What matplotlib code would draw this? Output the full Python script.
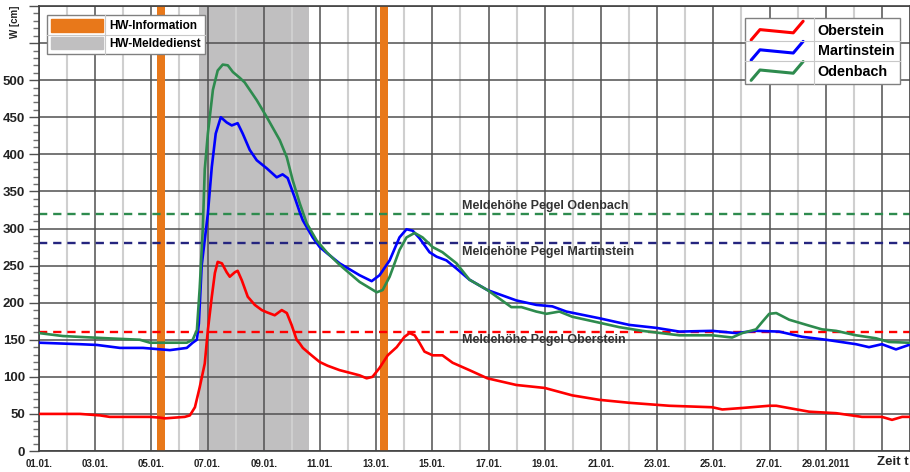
import matplotlib
matplotlib.use("Agg")
import matplotlib.pyplot as plt
from matplotlib.patches import Patch
from matplotlib.lines import Line2D
from matplotlib.legend_handler import HandlerBase

plt.rcParams['font.family'] = ['Liberation Sans', 'DejaVu Sans']
plt.rcParams['font.weight'] = 'bold'

# ---- data (time in days since 01.01.2011 00:00) ----
t_oberstein = [0.00, 1.46, 2.17, 2.52, 3.95, 4.30, 4.48, 4.83, 5.19, 5.37, 5.55, 5.72, 5.90, 6.01,
               6.15, 6.26, 6.36, 6.51, 6.68, 6.79, 6.97, 7.07, 7.22, 7.43, 7.68, 7.93, 8.11, 8.39,
               8.64, 8.82, 8.99, 9.17, 9.28, 9.39, 9.70, 9.99, 10.27, 10.70, 11.41, 11.66, 11.87,
               12.12, 12.41, 12.73, 13.01, 13.19, 13.37, 13.54, 13.72, 14.01, 14.36, 14.72, 15.32,
               15.96, 16.99, 18.00, 18.98, 19.94, 21.01, 22.43, 23.96, 24.32, 25.03, 25.99, 26.24,
               27.41, 28.37, 29.29, 30.00, 30.36, 30.72, 30.96]
w_oberstein = [50, 50, 48, 46, 46, 45, 44, 45, 46, 48, 59, 86, 118, 163,
               208, 240, 255, 253, 241, 235, 241, 243, 230, 208, 197, 190, 187, 183,
               190, 186, 170, 150, 145, 139, 129, 120, 115, 109, 102, 98, 100,
               112, 129, 140, 154, 159, 156, 146, 134, 129, 129, 119, 109,
               98, 89, 85, 75, 69, 65, 61, 59, 56, 58, 61, 61,
               53, 51, 46, 46, 42, 46, 46]

t_martinstein = [0.00, 1.46, 2.06, 2.88, 3.70, 4.66, 5.26, 5.47, 5.62, 5.69, 5.79, 5.90, 6.01, 6.15,
                 6.29, 6.47, 6.68, 6.86, 7.07, 7.25, 7.50, 7.75, 8.11, 8.46, 8.67, 8.85, 9.10,
                 9.28, 9.39, 9.74, 9.99, 10.24, 10.70, 11.41, 11.84, 12.12, 12.48, 12.83, 13.08,
                 13.30, 13.54, 13.90, 14.15, 14.50, 14.86, 15.32, 15.96, 16.99, 17.70, 18.27,
                 18.77, 19.94, 21.01, 21.97, 22.79, 23.96, 24.81, 25.52, 26.34, 27.16, 28.01,
                 29.08, 29.54, 30.00, 30.50, 30.96]
w_martinstein = [146, 144, 143, 139, 139, 136, 139, 146, 150, 172, 250, 285, 320, 383,
                 428, 450, 443, 439, 442, 428, 406, 392, 381, 369, 373, 368, 342,
                 322, 311, 288, 275, 267, 253, 237, 229, 237, 257, 288, 299,
                 297, 287, 268, 262, 257, 246, 231, 217, 203, 197, 195,
                 188, 179, 170, 166, 161, 162, 159, 162, 161, 154, 150,
                 144, 140, 144, 137, 143]

t_odenbach = [0.00, 0.85, 2.42, 3.59, 3.95, 5.26, 5.47, 5.62, 5.72, 5.83, 5.90, 6.01, 6.19, 6.36,
              6.54, 6.72, 6.90, 7.15, 7.32, 7.75, 8.11, 8.57, 8.82, 9.03, 9.28, 9.53, 9.88,
              10.24, 10.70, 11.41, 12.02, 12.23, 12.48, 12.83, 13.08, 13.37, 13.65, 14.01,
              14.36, 14.86, 15.32, 15.96, 16.81, 17.17, 17.70, 18.06, 18.52, 18.98, 19.94,
              20.65, 21.47, 22.79, 23.96, 24.67, 25.03, 25.52, 25.74, 25.99, 26.24, 26.70,
              27.41, 27.87, 28.37, 29.08, 29.79, 30.25, 30.96]
w_odenbach = [159, 155, 152, 150, 146, 146, 150, 163, 220, 300, 380, 428, 487, 513,
              521, 520, 511, 503, 497, 473, 450, 419, 396, 365, 334, 307, 284,
              268, 251, 228, 214, 217, 235, 271, 288, 294, 288, 275,
              268, 253, 231, 217, 194, 194, 188, 185, 188, 181, 173,
              167, 162, 156, 156, 153, 159, 164, 174, 185, 186, 177,
              169, 164, 162, 156, 152, 147, 146]

# warning levels (Meldehöhe)
meld_odenbach = 320
meld_martinstein = 280
meld_oberstein = 160

# warning periods (days since 01.01.)
hw_information = [(4.19, 4.50), (12.12, 12.41)]
hw_meldedienst = (5.69, 9.60)

tick_days = list(range(0, 30, 2))
tick_labels = ["01.01.", "03.01.", "05.01.", "07.01.", "09.01.", "11.01.", "13.01.", "15.01.",
               "17.01.", "19.01.", "21.01.", "23.01.", "25.01.", "27.01.", "29.01.2011"]
ytick_vals = [0, 50, 100, 150, 200, 250, 300, 350, 400, 450, 500]

# ---- colours ----
c_red = "#ff0000"
c_blue = "#0000ff"
c_green = "#2e8b4e"
c_navy = "#25257f"
c_orange = "#e8781a"
c_band = "#c0bfc0"

fig = plt.figure(figsize=(9.10, 4.72), dpi=100)
ax = fig.add_axes([39/910, 21/472, 871/910, 445/472])

ax.set_xlim(0, 31)
ax.set_ylim(0, 600)
ax.set_axisbelow(True)

# grid
ax.set_xticks(tick_days + [30])
ax.set_xticklabels(tick_labels + [""], fontsize=7, fontweight='bold', color='#222222')
ax.set_xticks(list(range(1, 31, 2)), minor=True)
ax.set_yticks(list(range(0, 601, 50)))
ax.set_yticklabels([str(v) if v in ytick_vals else "" for v in range(0, 601, 50)],
                   fontsize=9.5, fontweight='bold', color='#222222')
ax.set_yticks(list(range(0, 601, 10)), minor=True)
ax.grid(which='major', axis='both', color='#505050', lw=1.1)
ax.grid(which='minor', axis='x', color='#cfcfcf', lw=1.5)
ax.tick_params(axis='x', which='both', length=0, pad=6)
ax.tick_params(axis='y', which='major', length=7, width=1, color='#505050', pad=3)
ax.tick_params(axis='y', which='minor', length=4.5, width=1, color='#707070')
for s in ax.spines.values():
    s.set_color('#404040')
    s.set_linewidth(1.2)

# bands
ax.axvspan(*hw_meldedienst, color=c_band, lw=0, zorder=0.2)
for a, b in hw_information:
    ax.axvspan(a, b, color=c_orange, lw=0, zorder=1)

# warning levels
ax.axhline(meld_odenbach, color=c_green, lw=1.7, ls=(0, (3.5, 2.5)), zorder=2)
ax.axhline(meld_martinstein, color=c_navy, lw=1.7, ls=(0, (3.5, 2.5)), zorder=2)
ax.axhline(meld_oberstein, color=c_red, lw=1.7, ls=(0, (3.5, 2.5)), zorder=2)

tk = dict(fontsize=9, fontweight='bold', color='#333333', ha='left', va='center', zorder=4)
ax.text(15.05, 331, "Meldehöhe Pegel Odenbach", **tk)
ax.text(15.05, 268, "Meldehöhe Pegel Martinstein", **tk)
ax.text(15.05, 150, "Meldehöhe Pegel Oberstein", **tk)

# series
l1, = ax.plot(t_oberstein, w_oberstein, color=c_red, lw=1.9, zorder=3)
l2, = ax.plot(t_martinstein, w_martinstein, color=c_blue, lw=1.9, zorder=3)
l3, = ax.plot(t_odenbach, w_odenbach, color=c_green, lw=1.9, zorder=3)


class ZigZag(HandlerBase):
    def create_artists(self, legend, orig, xd, yd, width, height, fontsize, trans):
        xs = [-xd + width * f for f in (0.0, 0.17, 0.81, 1.0)]
        ys = [-yd + height * f for f in (-0.25, 0.55, 0.3, 1.2)]
        ln = Line2D(xs, ys, color=orig.get_color(), lw=2.2, solid_capstyle='round')
        ln.set_transform(trans)
        return [ln]


leg1 = ax.legend([Patch(color=c_orange), Patch(color=c_band)],
                 ["HW-Information", "HW-Meldedienst"],
                 loc='upper left', bbox_to_anchor=(0.0092, 0.98), borderaxespad=0,
                 prop=dict(family='Liberation Sans', weight='bold', size=8.5),
                 handlelength=4.4, handleheight=1.3, labelspacing=0.35, borderpad=0.35,
                 handletextpad=0.5, fancybox=False, framealpha=1, edgecolor='#808080')
leg1.get_frame().set_linewidth(1)
ax.add_artist(leg1)

leg2 = ax.legend([l1, l2, l3], ["Oberstein", "Martinstein", "Odenbach"],
                 handler_map={Line2D: ZigZag()},
                 loc='upper right', bbox_to_anchor=(0.9885, 0.973), borderaxespad=0,
                 prop=dict(family='Liberation Sans', weight='bold', size=10.4),
                 handlelength=3.6, handleheight=1.0, labelspacing=0.4, borderpad=0.4,
                 handletextpad=1.0, fancybox=False, framealpha=1, edgecolor='#808080')
leg2.get_frame().set_linewidth(1)

fig.text(15/910, 1 - 22/472, "W [cm]", rotation=90, ha='center', va='center',
         fontsize=7, fontweight='bold', color='#222222')
fig.text(0.999, 1 - 462/472, "Zeit t", ha='right', va='center',
         fontsize=9.5, fontweight='bold', color='#222222')

# table-like separators inside the legends
fig.canvas.draw()
renderer = fig.canvas.get_renderer()
W, H = fig.bbox.width, fig.bbox.height
for leg in (leg1, leg2):
    fb = leg.get_frame().get_window_extent(renderer)
    tbs = [t.get_window_extent(renderer) for t in leg.get_texts()]
    xsep = tbs[0].x0 - 4
    fig.add_artist(Line2D([xsep / W, xsep / W], [fb.y0 / H, fb.y1 / H],
                          color='#c8c8c8', lw=0.8, transform=fig.transFigure, zorder=10))
    for a, b in zip(tbs[:-1], tbs[1:]):
        ysep = (a.y0 + b.y1) / 2
        fig.add_artist(Line2D([fb.x0 / W, fb.x1 / W], [ysep / H, ysep / H],
                              color='#c8c8c8', lw=0.8, transform=fig.transFigure, zorder=10))

fig.savefig("out.png", dpi=100)
